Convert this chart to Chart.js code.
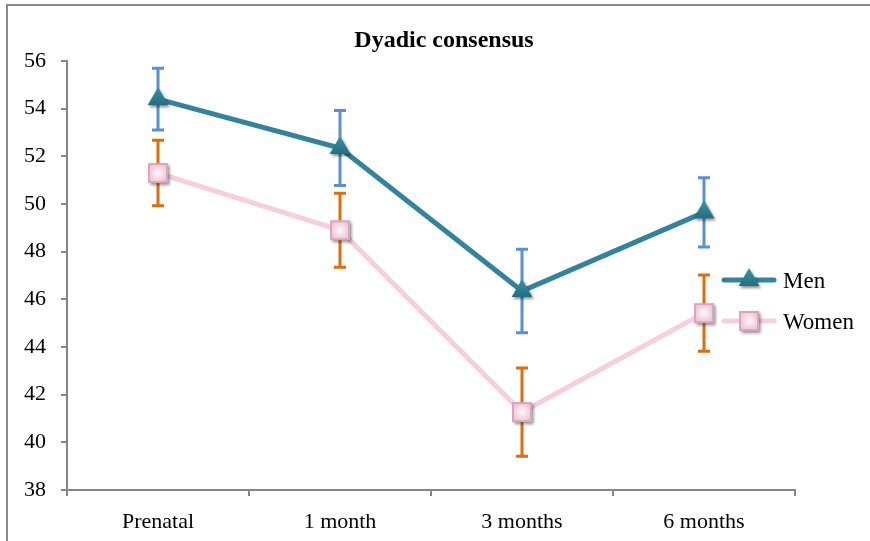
<!DOCTYPE html>
<html>
<head>
<meta charset="utf-8">
<script src="https://cdn.jsdelivr.net/npm/chart.js@4"></script>
<style>
  html, body { margin: 0; padding: 0; background: #fff; overflow: hidden; }
  #wrap { position: relative; width: 870px; height: 541px; overflow: hidden; }
  #frame { position: absolute; left: 6px; top: 4px; width: 950px; height: 650px; border: 2px solid #8a8a8a; }
  canvas { position: absolute; left: 0; top: 0; }
</style>
</head>
<body>
<div id="wrap">
  <div id="frame"></div>
  <canvas id="ch-dyadic" width="870" height="541"></canvas>
</div>
<script>
const categories = ['Prenatal', '1 month', '3 months', '6 months'];
const menValues = [54.4, 52.35, 46.35, 49.65];
const menErrors = [1.3, 1.57, 1.75, 1.45];
const womenValues = [51.3, 48.9, 41.27, 45.42];
const womenErrors = [1.37, 1.55, 1.85, 1.6];
const yTicks = [38, 40, 42, 44, 46, 48, 50, 52, 54, 56];

const FONT = '"Liberation Serif", "Times New Roman", serif';

// marker images (with soft drop shadow like the original)
function triangleMarker() {
  const c = document.createElement('canvas');
  c.width = 36; c.height = 36;
  const g = c.getContext('2d');
  g.shadowColor = 'rgba(0,0,0,0.45)';
  g.shadowBlur = 3; g.shadowOffsetX = 1.5; g.shadowOffsetY = 2;
  const grad = g.createLinearGradient(0, 6, 0, 24);
  grad.addColorStop(0, '#3a93a6');
  grad.addColorStop(1, '#236e7f');
  g.fillStyle = grad;
  g.beginPath();
  g.moveTo(18, 6); g.lineTo(28.4, 24); g.lineTo(7.6, 24); g.closePath();
  g.fill();
  return c;
}
function squareMarker() {
  const c = document.createElement('canvas');
  c.width = 36; c.height = 36;
  const g = c.getContext('2d');
  g.shadowColor = 'rgba(0,0,0,0.45)';
  g.shadowBlur = 3; g.shadowOffsetX = 1.5; g.shadowOffsetY = 2;
  g.fillStyle = '#d9a7bd';
  g.fillRect(8, 8, 20, 20);
  g.shadowColor = 'transparent';
  const rg = g.createRadialGradient(18, 18, 1, 18, 18, 11);
  rg.addColorStop(0, '#fdf2f7');
  rg.addColorStop(1, '#ecbfd3');
  g.fillStyle = rg;
  g.fillRect(10, 10, 16, 16);
  return c;
}
const triImg = triangleMarker();
const sqImg = squareMarker();

const errorBars = {
  id: 'errorBars',
  beforeDatasetsDraw(chart) {
    const ctx = chart.ctx, y = chart.scales.y;
    chart.data.datasets.forEach((ds, i) => {
      const meta = chart.getDatasetMeta(i);
      ctx.save();
      ctx.strokeStyle = ds.errColor;
      ctx.lineWidth = 3;
      meta.data.forEach((pt, j) => {
        const top = y.getPixelForValue(ds.data[j] + ds.errors[j]);
        const bot = y.getPixelForValue(ds.data[j] - ds.errors[j]);
        ctx.beginPath();
        ctx.moveTo(pt.x, top); ctx.lineTo(pt.x, bot);
        ctx.moveTo(pt.x - 6, top); ctx.lineTo(pt.x + 6, top);
        ctx.moveTo(pt.x - 6, bot); ctx.lineTo(pt.x + 6, bot);
        ctx.stroke();
      });
      ctx.restore();
    });
  }
};

const titleAndLegend = {
  id: 'titleAndLegend',
  afterDraw(chart) {
    const ctx = chart.ctx;
    ctx.save();
    ctx.fillStyle = '#000';
    ctx.font = 'bold 24px ' + FONT;
    ctx.textAlign = 'center';
    ctx.textBaseline = 'alphabetic';
    ctx.fillText('Dyadic consensus', 444, 47);

    ctx.font = '23px ' + FONT;
    ctx.textAlign = 'left';
    ctx.textBaseline = 'middle';
    chart.data.datasets.forEach((ds, i) => {
      const yy = 280 + i * 41;
      ctx.strokeStyle = ds.borderColor;
      ctx.lineWidth = 5;
      ctx.lineCap = 'round';
      ctx.beginPath();
      ctx.moveTo(724, yy); ctx.lineTo(774, yy);
      ctx.stroke();
      ctx.drawImage(ds.pointStyle, 749 - 18, yy - 18);
      ctx.fillStyle = '#000';
      ctx.fillText(ds.label, 783, yy + 2);
    });
    ctx.restore();
  }
};

new Chart(document.getElementById('ch-dyadic').getContext('2d'), {
  type: 'line',
  data: {
    labels: categories,
    datasets: [
      { label: 'Men', data: menValues, errors: menErrors, errColor: '#5790d8',
        borderColor: '#31849b', borderWidth: 5, pointStyle: triImg, pointRadius: 12, tension: 0 },
      { label: 'Women', data: womenValues, errors: womenErrors, errColor: '#e36c0a',
        borderColor: '#f7cde0', borderWidth: 5, pointStyle: sqImg, pointRadius: 12, tension: 0 }
    ]
  },
  options: {
    responsive: false,
    animation: false,
    devicePixelRatio: 1,
    layout: { padding: { top: 61, right: 75, left: 0, bottom: 0 } },
    plugins: { legend: { display: false }, title: { display: false }, tooltip: { enabled: false } },
    scales: {
      x: {
        offset: true,
        grid: { offset: true, drawOnChartArea: false, tickLength: 6, color: '#868686', lineWidth: 2 },
        border: { color: '#868686', width: 2 },
        ticks: { color: '#000', font: { family: FONT, size: 22 }, padding: 13, maxRotation: 0 },
        afterFit: s => { s.height = 51; }
      },
      y: {
        min: 38, max: 56,
        afterBuildTicks: s => { s.ticks = yTicks.map(v => ({ value: v })); },
        grid: { drawOnChartArea: false, tickLength: 6, color: '#868686', lineWidth: 2 },
        border: { color: '#868686', width: 2 },
        ticks: { color: '#000', font: { family: FONT, size: 22 }, padding: 15 },
        afterFit: s => { s.width = 67; }
      }
    }
  },
  plugins: [errorBars, titleAndLegend]
});
</script>
</body>
</html>
